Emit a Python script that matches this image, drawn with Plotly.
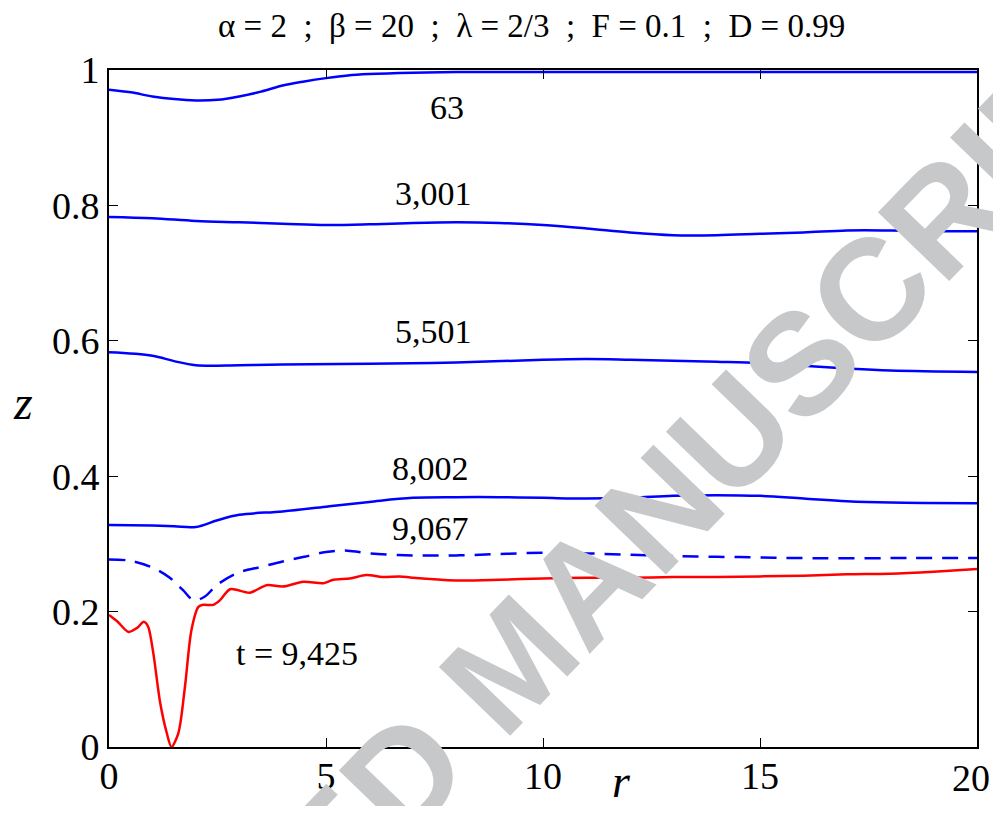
import plotly.graph_objects as go

# ---- data ----
r_63 = [0, 0.5, 1, 1.5, 2, 2.5, 3, 3.5, 4, 4.5, 5, 5.5, 6, 7, 8, 10, 12, 15, 20]
z_63 = [0.971, 0.967, 0.961, 0.957, 0.955, 0.956, 0.961, 0.968, 0.977, 0.983, 0.988, 0.992, 0.994, 0.996, 0.997, 0.997, 0.997, 0.997, 0.997]

r_3001 = [0, 1, 2, 3, 4, 5, 6, 7, 8, 9, 10, 11, 12, 13, 14, 15, 16, 17, 18, 19, 20]
z_3001 = [0.783, 0.781, 0.777, 0.775, 0.773, 0.771, 0.772, 0.774, 0.775, 0.774, 0.771, 0.766, 0.760, 0.756, 0.756, 0.758, 0.760, 0.763, 0.763, 0.762, 0.762]

r_5501 = [0, 1, 1.5, 2, 3, 4, 6, 8, 10, 11, 12, 14, 15, 16, 17, 18, 20]
z_5501 = [0.583, 0.578, 0.570, 0.564, 0.564, 0.565, 0.566, 0.568, 0.572, 0.573, 0.572, 0.569, 0.567, 0.563, 0.559, 0.556, 0.554]

r_8002 = [0, 1, 1.5, 2, 2.5, 3, 4, 5, 6, 7, 8, 9, 10, 11, 12, 13, 14, 15, 16, 17, 18, 20]
z_8002 = [0.328, 0.327, 0.326, 0.325, 0.335, 0.343, 0.348, 0.355, 0.362, 0.368, 0.369, 0.369, 0.368, 0.367, 0.368, 0.371, 0.372, 0.371, 0.367, 0.363, 0.361, 0.360]

r_9067 = [0, 0.5, 1, 1.4, 1.7, 1.95, 2.2, 2.5, 3, 3.5, 4, 4.5, 5, 5.5, 6, 7, 8, 9, 10, 11, 12, 13, 14, 15, 16, 18, 20]
z_9067 = [0.277, 0.275, 0.265, 0.250, 0.232, 0.217, 0.222, 0.240, 0.258, 0.266, 0.274, 0.281, 0.288, 0.290, 0.286, 0.283, 0.283, 0.285, 0.287, 0.286, 0.284, 0.282, 0.281, 0.280, 0.279, 0.279, 0.279]

r_9425 = [0, 0.2, 0.45, 0.65, 0.8, 0.9, 1.02, 1.18, 1.33, 1.44, 1.6, 1.75, 1.9, 2.06, 2.17, 2.4, 2.56, 2.79, 3.25, 3.63, 4.0, 4.48, 4.94, 5.17, 5.55, 5.93, 6.3, 6.7, 7, 8, 9, 10, 11, 12, 13, 14, 15, 16, 17, 18, 19, 20]
z_9425 = [0.195, 0.185, 0.170, 0.176, 0.185, 0.178, 0.139, 0.065, 0.021, 0.0, 0.021, 0.089, 0.173, 0.207, 0.210, 0.210, 0.217, 0.233, 0.228, 0.239, 0.237, 0.244, 0.242, 0.247, 0.249, 0.254, 0.251, 0.252, 0.250, 0.246, 0.247, 0.249, 0.250, 0.250, 0.251, 0.251, 0.252, 0.253, 0.255, 0.256, 0.259, 0.263]

x_ticks = [0, 5, 10, 15, 20]
x_tick_text = ["0", "5", "10", "15", "20"]
y_ticks = [0, 0.2, 0.4, 0.6, 0.8, 1]
y_tick_text = ["0", "0.2", "0.4", "0.6", "0.8", "1"]

curve_labels = ["63", "3,001", "5,501", "8,002", "9,067", "t = 9,425"]

title_text = "α = 2  ;  β = 20  ;  λ = 2/3  ;  F = 0.1  ;  D = 0.99"
watermark_text = "ACCEPTED MANUSCRIPT"

BLUE = "#0000ff"
RED = "#ff0000"
SERIF = "Liberation Serif"

# page geometry: the page body has an 8px margin on every side, so the figure is
# sized to fit exactly inside the 1001x814 window; plot area on page: x 109..977, y 70..747
OFF = 8
PL, PR, PT, PB = 109, 977, 70, 747
W, H = 1001 - 2 * OFF, 814 - 2 * OFF


def px2paper(px, py):
    return (px - PL) / (PR - PL), (PB - py) / (PB - PT)


fig = go.Figure()
for rr, zz in [(r_63, z_63), (r_3001, z_3001), (r_5501, z_5501), (r_8002, z_8002)]:
    fig.add_trace(go.Scatter(x=rr, y=zz, mode="lines",
                             line=dict(color=BLUE, width=2.5, shape="spline", smoothing=1.0),
                             showlegend=False, hoverinfo="skip"))
fig.add_trace(go.Scatter(x=r_9067, y=z_9067, mode="lines",
                         line=dict(color=BLUE, width=2.5, dash="16px,10px", shape="spline", smoothing=1.0),
                         showlegend=False, hoverinfo="skip"))
fig.add_trace(go.Scatter(x=r_9425, y=z_9425, mode="lines",
                         line=dict(color=RED, width=2.5, shape="spline", smoothing=0.8),
                         showlegend=False, hoverinfo="skip"))


def add_text(text, px, py, size, family=SERIF, color="black", angle=0, bold=False, xanchor="center"):
    x, y = px2paper(px, py)
    fig.add_annotation(x=x, y=y, xref="paper", yref="paper", text=text, showarrow=False,
                       xanchor=xanchor, yanchor="middle", textangle=angle,
                       font=dict(family=family, size=size, color=color,
                                 weight="bold" if bold else "normal"))


# watermark (drawn first so other text sits on top)
add_text(watermark_text, 512, 662, 144, family="Liberation Sans", color="rgb(199,200,202)",
         angle=-46, bold=True)

# curve labels
label_px = [(447, 107), (433, 193), (433, 331), (430, 469), (430, 528), (297, 653)]
for txt, (lx, ly) in zip(curve_labels, label_px):
    add_text(txt, lx, ly, 34)

# title
add_text(title_text, 531, 26, 33)

# axis labels
add_text("<i>z</i>", 23, 402, 48)
add_text("<i>r</i>", 621, 781, 46)

# last x tick label drawn as text, nudged so it stays inside the page edge
add_text(x_tick_text[-1], 992, 778, 38, xanchor="right")

axis_common = dict(ticks="inside", ticklen=9, tickwidth=1.2, tickcolor="black",
                   showline=True, linecolor="black", linewidth=1.8, mirror="ticks",
                   showgrid=False, zeroline=False, automargin=False,
                   ticklabeloverflow="allow",
                   tickfont=dict(family=SERIF, size=38, color="black"))

fig.update_layout(
    width=W, height=H,
    margin=dict(l=PL - OFF, r=W + OFF - PR, t=PT - OFF, b=H + OFF - PB, pad=0, autoexpand=False),
    paper_bgcolor="white", plot_bgcolor="white",
    xaxis=dict(range=[0, 20], tickvals=x_ticks, ticktext=x_tick_text[:-1] + [""],
               ticklabelstandoff=-6, **axis_common),
    yaxis=dict(range=[0, 1], tickvals=y_ticks, ticktext=y_tick_text, ticklabelstandoff=0, **axis_common),
)

fig.write_html("out.html")
